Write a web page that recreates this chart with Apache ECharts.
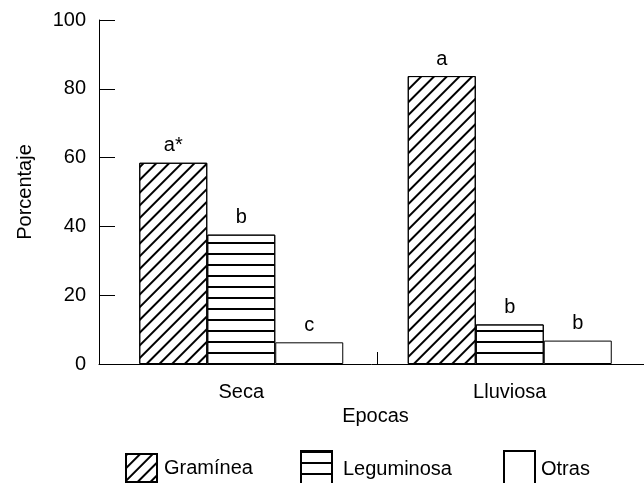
<!DOCTYPE html>
<html>
<head>
<meta charset="utf-8">
<script src="https://cdn.jsdelivr.net/npm/echarts@6/dist/echarts.min.js"></script>
<style>html,body{margin:0;padding:0;background:#fff;}#c{width:644px;height:483px;}</style>
</head>
<body>
<div id="c"></div>
<script>
var categories = ['Seca', 'Lluviosa'];
var seriesNames = ['Gramínea', 'Leguminosa', 'Otras'];
var graminea = [58.5, 83.7];
var leguminosa = [37.6, 11.5];
var otras = [6.3, 6.8];
var gramineaLetters = ['a*', 'a'];
var leguminosaLetters = ['b', 'b'];
var otrasLetters = ['c', 'b'];
var yTicks = [0, 20, 40, 60, 80, 100];

var FONT = 'Liberation Sans';
var FS = 20;
var chart = echarts.init(document.getElementById('c'), null, {renderer: 'canvas'});

function labelFor(letters) {
  return {
    show: true, position: 'top', distance: 7,
    color: '#000', fontFamily: FONT, fontSize: FS,
    formatter: function (p) { return letters[p.dataIndex]; }
  };
}
var diag = {symbol: 'rect', symbolSize: 1, dashArrayX: [1, 0], dashArrayY: [1.1, 6.2], rotation: -Math.PI / 4, color: '#000'};
var horiz = {symbol: 'rect', symbolSize: 1, dashArrayX: [1, 0], dashArrayY: [1.2, 8.9], rotation: 0, color: '#000'};
var txt = {fontFamily: FONT, fontSize: FS, color: '#000'};

var option = {
  animation: false,
  backgroundColor: '#fff',
  textStyle: {fontFamily: FONT, color: '#000'},
  grid: [
    {left: 107, right: -7, top: 20, bottom: 119},
    {left: 99, right: 0, top: 20, bottom: 119},
    {left: 377, right: -4, top: 20, bottom: 119}
  ],
  xAxis: [
    {
      type: 'category', gridIndex: 0, data: categories,
      name: 'Epocas', nameLocation: 'middle', nameGap: 42,
      nameTextStyle: txt,
      axisLine: {show: false},
      axisTick: {show: false},
      axisLabel: {fontFamily: FONT, fontSize: FS, color: '#000', margin: 18},
      splitLine: {show: false}
    },
    {
      type: 'category', gridIndex: 1, data: ['', ''],
      axisLine: {show: true, lineStyle: {color: '#000', width: 1}},
      axisTick: {show: false}, axisLabel: {show: false}, splitLine: {show: false}
    },
    {
      type: 'category', gridIndex: 2, data: [''],
      axisLine: {show: false},
      axisTick: {show: true, inside: true, length: 12, lineStyle: {color: '#000', width: 1}},
      axisLabel: {show: false}, splitLine: {show: false}
    }
  ],
  yAxis: [
    {type: 'value', gridIndex: 0, min: 0, max: 100, interval: 20, show: false, splitLine: {show: false}},
    {
      type: 'value', gridIndex: 1, min: yTicks[0], max: yTicks[yTicks.length - 1], interval: 20,
      name: 'Porcentaje', nameLocation: 'middle', nameGap: 64, nameRotate: 90,
      nameTextStyle: txt,
      axisLine: {show: true, lineStyle: {color: '#000', width: 1}},
      axisTick: {show: true, inside: true, length: 16, lineStyle: {color: '#000', width: 1}},
      axisLabel: {fontFamily: FONT, fontSize: FS, color: '#000', margin: 13},
      splitLine: {show: false}
    },
    {type: 'value', gridIndex: 2, min: 0, max: 100, show: false}
  ],
  legend: [
    {data: [seriesNames[0]], left: 125, top: 453, padding: 0, icon: 'rect', itemWidth: 31, itemHeight: 28,
      textStyle: {fontFamily: FONT, fontSize: FS, color: '#000', padding: [0, 0, 0, 2]}},
    {data: [seriesNames[1]], left: 300, top: 450, padding: 0, icon: 'rect', itemWidth: 31, itemHeight: 36,
      textStyle: {fontFamily: FONT, fontSize: FS, color: '#000', padding: [0, 0, 0, 6]}},
    {data: [seriesNames[2]], left: 503, top: 450, padding: 0, icon: 'rect', itemWidth: 31, itemHeight: 36,
      textStyle: {fontFamily: FONT, fontSize: FS, color: '#000', padding: [0, 0, 0, 1]}}
  ],
  series: [
    {name: seriesNames[0], type: 'bar', xAxisIndex: 0, yAxisIndex: 0, data: graminea,
      barWidth: 68, barGap: '0%',
      itemStyle: {color: '#fff', borderColor: '#000', borderWidth: 1, decal: diag},
      label: labelFor(gramineaLetters)},
    {name: seriesNames[1], type: 'bar', xAxisIndex: 0, yAxisIndex: 0, data: leguminosa,
      barWidth: 68, barGap: '0%',
      itemStyle: {color: '#fff', borderColor: '#000', borderWidth: 1, decal: horiz},
      label: labelFor(leguminosaLetters)},
    {name: seriesNames[2], type: 'bar', xAxisIndex: 0, yAxisIndex: 0, data: otras,
      barWidth: 68, barGap: '0%',
      itemStyle: {color: '#fff', borderColor: '#000', borderWidth: 1},
      label: labelFor(otrasLetters)}
  ]
};
chart.setOption(option);
</script>
</body>
</html>
